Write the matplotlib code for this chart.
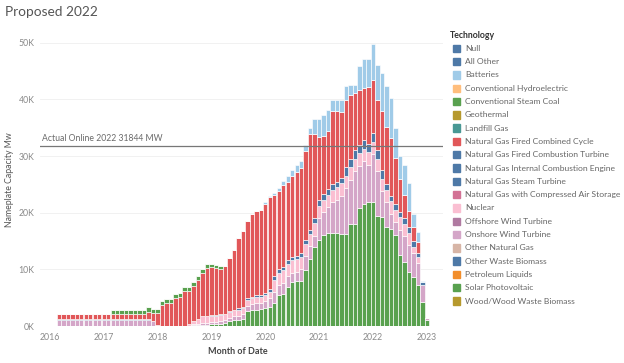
import numpy as np
import pandas as pd
import matplotlib
matplotlib.use("Agg")
import matplotlib.pyplot as plt
from matplotlib.patches import Rectangle

plt.rcParams["font.family"] = ["Lato", "DejaVu Sans"]

# monthly bars, Mar 2016 .. Jan 2023 (values in thousand MW)
months = pd.date_range("2016-03-01", "2023-01-01", freq="MS")

solar = [0, 0, 0, 0, 0, 0, 0, 0, 0, 0,
         0, 0, 0, 0, 0, 0, 0, 0, 0, 0, 0, 0,
         0, 0, 0, 0, 0, 0, 0, 0, 0.1, 0.1, 0.2, 0.2,
         0.3, 0.3, 0.4, 0.5, 0.8, 1.0, 1.0, 1.2, 2.6, 2.8, 2.9, 3.0,
         3.2, 3.4, 4.0, 5.4, 5.6, 6.9, 7.8, 8.0, 8.0, 9.8, 11.9, 13.9,
         15.1, 16.0, 16.5, 16.5, 16.5, 16.3, 16.3, 18.0, 18.0, 20.9, 21.5, 21.8,
         21.8, 19.5, 19.2, 17.4, 17.1, 16.0, 12.5, 11.3, 9.5, 8.7, 7.2, 4.3,
         1.0]
onshore = [1.1, 1.1, 1.1, 1.1, 1.1, 1.1, 1.1, 1.1, 1.1, 1.1,
           1.1, 1.1, 1.1, 1.1, 1.1, 1.1, 1.1, 1.1, 1.1, 1.1, 1.1, 0.8,
           0.2, 0, 0, 0, 0, 0, 0, 0, 0.2, 0.3, 0.4, 0.4,
           0.4, 0.4, 0.5, 0.5, 0.6, 0.7, 0.8, 0.9, 0.9, 1.0, 1.1, 1.1,
           1.2, 1.5, 2.0, 1.8, 2.0, 1.9, 1.6, 1.6, 2.0, 2.5, 2.2, 2.0,
           3.9, 4.1, 4.5, 5.3, 5.8, 6.7, 8.0, 7.8, 9.3, 7.4, 7.6, 6.7,
           8.5, 7.8, 4.6, 4.4, 2.7, 2.3, 4.5, 4.5, 4.8, 4.2, 3.9, 3.0,
           0.4]
nuclear = [0, 0, 0, 0, 0, 0, 0, 0, 0, 0,
           0, 0, 0, 0, 0, 0, 0, 0, 0, 0, 0, 0,
           0, 0, 0, 0, 0, 0, 0, 0.3, 0.6, 0.9, 1.1, 1.1,
           1.1, 1.1, 1.1, 1.1, 1.1, 1.1, 1.1, 1.1, 1.1, 1.1, 1.1, 1.1,
           1.1, 1.1, 2.2, 2.2, 2.2, 2.2, 2.2, 2.2, 2.2, 2.2, 2.2, 2.2,
           2.2, 2.2, 2.2, 2.2, 2.2, 2.2, 2.2, 2.2, 2.2, 2.2, 2.2, 2.2,
           2.2, 2.2, 2.2, 2.2, 2.2, 2.2, 2.2, 2.2, 2.2, 1.1, 1.1, 0,
           0]
ng_ct = [0.2, 0.2, 0.2, 0.2, 0.2, 0.2, 0.2, 0.2, 0.2, 0.2,
         0.2, 0.2, 0.2, 0.2, 0.2, 0.2, 0.2, 0.2, 0.2, 0.2, 0.2, 0.15,
         0, 0, 0, 0, 0, 0, 0, 0, 0, 0, 0, 0.1,
         0.1, 0.1, 0.1, 0.1, 0.1, 0.1, 0.2, 0.2, 0.3, 0.3, 0.3, 0.3,
         0.3, 0.5, 0.6, 0.6, 0.6, 0.6, 0.6, 0.6, 0.6, 0.6, 0.6, 1.0,
         1.0, 1.0, 1.0, 1.0, 1.0, 1.0, 1.5, 1.5, 1.5, 1.5, 1.5, 1.5,
         1.5, 1.5, 1.5, 1.0, 1.0, 1.0, 1.0, 1.0, 1.0, 1.0, 0.6, 0.4,
         0]
ng_cc = [0.9, 0.9, 0.9, 0.9, 0.9, 0.9, 0.9, 0.9, 0.9, 0.9,
         0.9, 0.9, 0.75, 0.75, 0.75, 0.75, 0.75, 0.75, 0.75, 0.75, 1.1, 1.4,
         2.1, 3.7, 4.0, 4.1, 5.0, 5.1, 6.1, 5.9, 6.2, 6.9, 7.6, 8.4,
         8.5, 8.3, 8.0, 8.4, 9.4, 10.6, 12.4, 13.4, 13.6, 14.6, 14.9, 15.0,
         15.8, 16.2, 14.3, 13.9, 14.4, 13.9, 14.2, 14.7, 15.1, 15.7, 16.9, 14.7,
         11.1, 10.3, 10.2, 12.9, 12.4, 11.5, 11.8, 11.3, 10.1, 9.7, 9.2, 10.0,
         9.5, 8.9, 10.4, 10.1, 10.2, 8.2, 5.8, 4.2, 2.8, 2.4, 2.0, 0.0,
         0]
coal = [0, 0, 0, 0, 0, 0, 0, 0, 0, 0,
        0, 0, 0.8, 0.8, 0.8, 0.8, 0.8, 0.8, 0.8, 0.8, 0.9, 0.7,
        0.7, 0.7, 0.7, 0.7, 0.7, 0.7, 0.7, 0.7, 0.7, 0.7, 0.7, 0.7,
        0.6, 0.6, 0.5, 0, 0, 0, 0, 0, 0, 0, 0, 0,
        0, 0, 0, 0, 0, 0, 0, 0, 0, 0, 0, 0,
        0, 0, 0, 0, 0, 0, 0, 0, 0, 0, 0, 0,
        0, 0, 0, 0, 0, 0, 0, 0, 0, 0, 0, 0,
        0]
batteries = [0, 0, 0, 0, 0, 0, 0, 0, 0, 0,
             0, 0, 0, 0, 0, 0, 0, 0, 0, 0, 0, 0,
             0, 0, 0, 0, 0, 0, 0, 0, 0, 0, 0, 0,
             0, 0, 0, 0, 0, 0, 0, 0, 0, 0, 0, 0,
             0.2, 0.3, 0.4, 0.5, 0.8, 1.0, 1.2, 1.3, 1.3, 1.2, 1.2, 2.8,
             3.3, 3.7, 3.8, 2.0, 2.0, 2.2, 2.5, 1.8, 1.5, 4.1, 5.2, 5.0,
             6.2, 6.2, 6.7, 7.2, 7.0, 5.3, 4.0, 5.2, 5.0, 2.4, 1.8, 0.3,
             0]

technologies = ["Null", "All Other", "Batteries", "Conventional Hydroelectric",
                "Conventional Steam Coal", "Geothermal", "Landfill Gas",
                "Natural Gas Fired Combined Cycle", "Natural Gas Fired Combustion Turbine",
                "Natural Gas Internal Combustion Engine", "Natural Gas Steam Turbine",
                "Natural Gas with Compressed Air Storage", "Nuclear", "Offshore Wind Turbine",
                "Onshore Wind Turbine", "Other Natural Gas", "Other Waste Biomass",
                "Petroleum Liquids", "Solar Photovoltaic", "Wood/Wood Waste Biomass"]
tech_colors = ["#4e79a7", "#4e79a7", "#a0cbe8", "#ffbe7d", "#59a14f", "#b6992d", "#499894",
               "#e15759", "#4e79a7", "#4e79a7", "#4e79a7", "#d37295", "#fabfd2", "#b07aa1",
               "#d4a6c8", "#d7b5a6", "#4e79a7", "#f28e2b", "#59a14f", "#b6992d"]
color_of = dict(zip(technologies, tech_colors))

# bottom -> top, same order as the legend reversed
stack = [("Solar Photovoltaic", solar),
         ("Onshore Wind Turbine", onshore),
         ("Nuclear", nuclear),
         ("Natural Gas Fired Combustion Turbine", ng_ct),
         ("Natural Gas Fired Combined Cycle", ng_cc),
         ("Conventional Steam Coal", coal),
         ("Batteries", batteries)]

W, H = 624, 363
fig = plt.figure(figsize=(W / 100, H / 100), dpi=100)
ax = fig.add_axes([40 / W, 37 / H, 403 / W, 291.8 / H])

x = (months.year - 2016) * 12 + months.month - 1
bottom = np.zeros(len(x))
for name, vals in stack:
    vals = np.array(vals) * 1000
    ax.bar(x, vals, width=0.98, bottom=bottom, color=color_of[name],
           edgecolor="white", linewidth=0.45, zorder=2)
    bottom += vals

ax.set_xlim(-2.2, 87.6)
ax.set_ylim(0, 51500)
ax.set_yticks(np.arange(0, 50001, 10000))
ax.set_yticklabels([f"{v}K" for v in range(0, 51, 10)])
ax.set_xticks(np.arange(0, 85, 12))
ax.set_xticklabels([str(y) for y in range(2016, 2024)])
ax.tick_params(length=0, labelsize=6.3, labelcolor="#8a8a8a")
ax.tick_params(axis="x", pad=5)
ax.tick_params(axis="y", pad=4)
ax.yaxis.grid(True, color="#efefef", linewidth=0.6, zorder=0)
for s in ax.spines.values():
    s.set_visible(False)

actual_online = 31844
ax.axhline(actual_online, color="#777777", linewidth=0.9, zorder=3)
ax.text(-1.8, actual_online + 450, "Actual Online 2022 31844 MW",
        fontsize=6.2, color="#6a6a6a", va="bottom", ha="left")

fig.text(5 / W, 1 - 12 / H, "Proposed 2022", fontsize=9.8, color="#555555", va="center")
fig.text(10 / W, 1 - 180 / H, "Nameplate Capacity Mw", rotation=90, fontsize=6.3,
         color="#555555", va="center", ha="center")
fig.text(238 / W, 1 - 352 / H, "Month of Date", fontsize=6.5, color="#444444",
         fontweight="bold", va="center", ha="center")

# legend drawn in pixel coordinates
leg = fig.add_axes([0, 0, 1, 1])
leg.set_xlim(0, W)
leg.set_ylim(H, 0)
leg.axis("off")
leg.text(450, 36, "Technology", fontsize=6.3, fontweight="bold", color="#333333", va="center")
for k, (name, c) in enumerate(zip(technologies, tech_colors)):
    y = 48.3 + k * 13.3
    leg.add_patch(Rectangle((452.5, y - 3.7), 7.4, 7.4, color=c))
    leg.text(465, y, name, fontsize=6.1, color="#666666", va="center")

fig.savefig("out.png", dpi=100)
